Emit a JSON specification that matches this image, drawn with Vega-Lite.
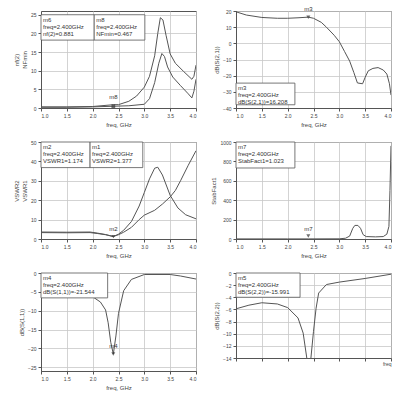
{
"$schema": "https://vega.github.io/schema/vega-lite/v6.json",
"background": "white",
"padding": {"left": 12, "top": 5, "right": 5, "bottom": 2},
"datasets": {
"p1": [
{"freq":1.0,"v":0.3,"s":"nf(2)"},{"freq":1.5,"v":0.3,"s":"nf(2)"},{"freq":2.0,"v":0.4,"s":"nf(2)"},{"freq":2.4,"v":0.88,"s":"nf(2)"},{"freq":2.5,"v":0.9,"s":"nf(2)"},{"freq":2.7,"v":1.8,"s":"nf(2)"},{"freq":2.85,"v":3.2,"s":"nf(2)"},{"freq":3.0,"v":5.6,"s":"nf(2)"},{"freq":3.1,"v":8.5,"s":"nf(2)"},{"freq":3.2,"v":14,"s":"nf(2)"},{"freq":3.26,"v":20,"s":"nf(2)"},{"freq":3.31,"v":24.2,"s":"nf(2)"},{"freq":3.36,"v":23.6,"s":"nf(2)"},{"freq":3.42,"v":19.5,"s":"nf(2)"},{"freq":3.5,"v":14.5,"s":"nf(2)"},{"freq":3.6,"v":12,"s":"nf(2)"},{"freq":3.76,"v":9.8,"s":"nf(2)"},{"freq":3.92,"v":7.7,"s":"nf(2)"},{"freq":3.96,"v":8.5,"s":"nf(2)"},{"freq":4.0,"v":11.5,"s":"nf(2)"},
{"freq":1.0,"v":0.2,"s":"NFmin"},{"freq":1.5,"v":0.2,"s":"NFmin"},{"freq":2.0,"v":0.3,"s":"NFmin"},{"freq":2.4,"v":0.47,"s":"NFmin"},{"freq":2.7,"v":0.6,"s":"NFmin"},{"freq":3.0,"v":1.0,"s":"NFmin"},{"freq":3.1,"v":2.5,"s":"NFmin"},{"freq":3.2,"v":6.8,"s":"NFmin"},{"freq":3.28,"v":12,"s":"NFmin"},{"freq":3.34,"v":14.6,"s":"NFmin"},{"freq":3.39,"v":13.8,"s":"NFmin"},{"freq":3.45,"v":11,"s":"NFmin"},{"freq":3.55,"v":8.3,"s":"NFmin"},{"freq":3.7,"v":6,"s":"NFmin"},{"freq":3.85,"v":3.8,"s":"NFmin"},{"freq":3.92,"v":2.7,"s":"NFmin"},{"freq":3.96,"v":4.5,"s":"NFmin"},{"freq":4.0,"v":7.7,"s":"NFmin"}
],
"p2": [
{"freq":1.0,"v":19.5},{"freq":1.2,"v":17.5},{"freq":1.5,"v":16},{"freq":1.8,"v":15.5},{"freq":2.0,"v":15.5},{"freq":2.2,"v":15.8},{"freq":2.4,"v":16.2},{"freq":2.5,"v":15.5},{"freq":2.65,"v":13},{"freq":2.75,"v":10},{"freq":2.9,"v":5},{"freq":3.0,"v":1},{"freq":3.1,"v":-5},{"freq":3.2,"v":-11},{"freq":3.28,"v":-18},{"freq":3.35,"v":-24.5},{"freq":3.45,"v":-25},{"freq":3.5,"v":-21},{"freq":3.56,"v":-17},{"freq":3.65,"v":-15.5},{"freq":3.75,"v":-15},{"freq":3.85,"v":-16.5},{"freq":3.92,"v":-19},{"freq":3.97,"v":-25},{"freq":4.0,"v":-32}
],
"p3": [
{"freq":1.0,"v":3.6,"s":"VSWR1"},{"freq":1.5,"v":3.5,"s":"VSWR1"},{"freq":1.95,"v":3.6,"s":"VSWR1"},{"freq":2.1,"v":3.0,"s":"VSWR1"},{"freq":2.25,"v":2.3,"s":"VSWR1"},{"freq":2.4,"v":1.17,"s":"VSWR1"},{"freq":2.5,"v":2.5,"s":"VSWR1"},{"freq":2.6,"v":4.5,"s":"VSWR1"},{"freq":2.75,"v":9,"s":"VSWR1"},{"freq":2.9,"v":17,"s":"VSWR1"},{"freq":3.0,"v":24,"s":"VSWR1"},{"freq":3.1,"v":31,"s":"VSWR1"},{"freq":3.2,"v":36.5,"s":"VSWR1"},{"freq":3.26,"v":37,"s":"VSWR1"},{"freq":3.35,"v":33,"s":"VSWR1"},{"freq":3.5,"v":22.5,"s":"VSWR1"},{"freq":3.65,"v":16,"s":"VSWR1"},{"freq":3.8,"v":12.5,"s":"VSWR1"},{"freq":4.0,"v":10.4,"s":"VSWR1"},
{"freq":1.0,"v":3.3,"s":"VSWR2"},{"freq":1.5,"v":3.2,"s":"VSWR2"},{"freq":1.95,"v":3.3,"s":"VSWR2"},{"freq":2.1,"v":2.8,"s":"VSWR2"},{"freq":2.25,"v":2.2,"s":"VSWR2"},{"freq":2.4,"v":1.38,"s":"VSWR2"},{"freq":2.5,"v":2.2,"s":"VSWR2"},{"freq":2.6,"v":3.5,"s":"VSWR2"},{"freq":2.75,"v":6,"s":"VSWR2"},{"freq":2.9,"v":10,"s":"VSWR2"},{"freq":3.0,"v":12.3,"s":"VSWR2"},{"freq":3.2,"v":14.8,"s":"VSWR2"},{"freq":3.35,"v":18,"s":"VSWR2"},{"freq":3.5,"v":21.7,"s":"VSWR2"},{"freq":3.6,"v":25,"s":"VSWR2"},{"freq":3.7,"v":30,"s":"VSWR2"},{"freq":3.85,"v":38,"s":"VSWR2"},{"freq":4.0,"v":45.5,"s":"VSWR2"}
],
"p4": [
{"freq":1.0,"v":1},{"freq":2.0,"v":1},{"freq":2.4,"v":1.02},{"freq":3.0,"v":2},{"freq":3.12,"v":8},{"freq":3.2,"v":30},{"freq":3.26,"v":110},{"freq":3.3,"v":140},{"freq":3.36,"v":140},{"freq":3.41,"v":110},{"freq":3.46,"v":45},{"freq":3.52,"v":25},{"freq":3.7,"v":22},{"freq":3.85,"v":25},{"freq":3.92,"v":50},{"freq":3.96,"v":130},{"freq":3.98,"v":500},{"freq":4.0,"v":960}
],
"p5": [
{"freq":1.0,"v":-5.6},{"freq":1.5,"v":-5.8},{"freq":2.0,"v":-6.3},{"freq":2.15,"v":-7.7},{"freq":2.25,"v":-9.8},{"freq":2.3,"v":-13.2},{"freq":2.35,"v":-18.4},{"freq":2.4,"v":-21.5},{"freq":2.45,"v":-16.7},{"freq":2.5,"v":-10.7},{"freq":2.6,"v":-4.7},{"freq":2.75,"v":-1.7},{"freq":3.0,"v":-0.4},{"freq":3.5,"v":-0.4},{"freq":3.7,"v":-0.8},{"freq":4.0,"v":-1.6}
],
"p6": [
{"freq":1.0,"v":-5.9},{"freq":1.25,"v":-5.3},{"freq":1.5,"v":-4.9},{"freq":1.8,"v":-5.1},{"freq":2.0,"v":-5.7},{"freq":2.2,"v":-7.4},{"freq":2.3,"v":-9.9},{"freq":2.37,"v":-14},{"freq":2.4,"v":-16},{"freq":2.45,"v":-14},{"freq":2.5,"v":-9.6},{"freq":2.55,"v":-5.8},{"freq":2.6,"v":-3.3},{"freq":2.75,"v":-1.9},{"freq":3.0,"v":-1.5},{"freq":3.5,"v":-0.9},{"freq":4.0,"v":-0.2}
]
},
"spacing": 11,
"vconcat": [
{"bounds": "flush", "spacing": 40, "hconcat": [
{"width":155,"height":97,
 "layer":[
  {"data":{"name":"p1"},"mark":{"type":"line","color":"#555","strokeWidth":1,"clip":true},
   "encoding":{"x":{"field":"freq","type":"quantitative","scale":{"domain":[1,4]},"axis":{"format":".1f","title":"freq, GHz"}},
   "y":{"field":"v","type":"quantitative","scale":{"domain":[0,25]},"axis":{"title":["nf(2)","NFmin"]}},"detail":{"field":"s"}}},
  {"data":{"values":[{"n":"m8","freq":2.4,"v":0.47}]},"mark":{"type":"point","shape":"square","filled":true,"fill":"#333","color":"#333","size":14},
   "encoding":{"x":{"field":"freq","type":"quantitative"},"y":{"field":"v","type":"quantitative"}}},
  {"data":{"values":[{"n":"m8","freq":2.4,"v":0.47}]},"mark":{"type":"text","fontSize":6,"dy":-9,"fill":"#333"},
   "encoding":{"x":{"field":"freq","type":"quantitative"},"y":{"field":"v","type":"quantitative"},"text":{"field":"n"}}},
  {"data":{"values":[{}]},"mark":{"type":"rect","fill":"white","stroke":"#555","strokeWidth":0.8},
   "encoding":{"x":{"datum":1.0},"x2":{"datum":2.03},"y":{"datum":25},"y2":{"datum":18.2}}},
  {"data":{"values":[{}]},"mark":{"type":"rect","fill":"white","stroke":"#555","strokeWidth":0.8},
   "encoding":{"x":{"datum":2.03},"x2":{"datum":3.01},"y":{"datum":25},"y2":{"datum":18.2}}},
  {"data":{"values":[{"t":"m6\nfreq=2.400GHz\nnf(2)=0.881"}]},"mark":{"type":"text","lineBreak":"\n","fontSize":6,"align":"left","baseline":"top","dx":2,"dy":2,"fill":"#333","lineHeight":7},
   "encoding":{"x":{"datum":1.0},"y":{"datum":25},"text":{"field":"t"}}},
  {"data":{"values":[{"t":"m8\nfreq=2.400GHz\nNFmin=0.467"}]},"mark":{"type":"text","lineBreak":"\n","fontSize":6,"align":"left","baseline":"top","dx":2,"dy":2,"fill":"#333","lineHeight":7},
   "encoding":{"x":{"datum":2.03},"y":{"datum":25},"text":{"field":"t"}}}
 ]},
{"width":155,"height":97,
 "layer":[
  {"data":{"name":"p2"},"mark":{"type":"line","color":"#555","strokeWidth":1,"clip":true},
   "encoding":{"x":{"field":"freq","type":"quantitative","scale":{"domain":[1,4]},"axis":{"format":".1f","title":"freq, GHz"}},
   "y":{"field":"v","type":"quantitative","scale":{"domain":[-40,20]},"axis":{"title":"dB(S(2,1))"}}}},
  {"data":{"values":[{"n":"m3","freq":2.4,"v":16.2}]},"mark":{"type":"point","shape":"triangle-down","filled":true,"fill":"#333","size":16},
   "encoding":{"x":{"field":"freq","type":"quantitative"},"y":{"field":"v","type":"quantitative"}}},
  {"data":{"values":[{"n":"m3","freq":2.4,"v":16.2}]},"mark":{"type":"text","fontSize":6,"dy":-8,"fill":"#333"},
   "encoding":{"x":{"field":"freq","type":"quantitative"},"y":{"field":"v","type":"quantitative"},"text":{"field":"n"}}},
  {"data":{"values":[{}]},"mark":{"type":"rect","fill":"white","stroke":"#555","strokeWidth":0.8},
   "encoding":{"x":{"datum":1.0},"x2":{"datum":2.14},"y":{"datum":-24.6},"y2":{"datum":-38}}},
  {"data":{"values":[{"t":"m3\nfreq=2.400GHz\ndB(S(2,1))=16.208"}]},"mark":{"type":"text","lineBreak":"\n","fontSize":6,"align":"left","baseline":"top","dx":2,"dy":2,"fill":"#333","lineHeight":7},
   "encoding":{"x":{"datum":1.0},"y":{"datum":-24.6},"text":{"field":"t"}}}
 ]}
]},
{"bounds": "flush", "spacing": 40, "hconcat": [
{"width":155,"height":97,
 "layer":[
  {"data":{"name":"p3"},"mark":{"type":"line","color":"#555","strokeWidth":1,"clip":true},
   "encoding":{"x":{"field":"freq","type":"quantitative","scale":{"domain":[1,4]},"axis":{"format":".1f","title":"freq, GHz"}},
   "y":{"field":"v","type":"quantitative","scale":{"domain":[0,50]},"axis":{"title":["VSWR2","VSWR1"]}},"detail":{"field":"s"}}},
  {"data":{"values":[{"n":"m2","freq":2.4,"v":1.17}]},"mark":{"type":"point","shape":"triangle-down","filled":true,"fill":"#333","size":14},
   "encoding":{"x":{"field":"freq","type":"quantitative"},"y":{"field":"v","type":"quantitative"}}},
  {"data":{"values":[{"n":"m2","freq":2.4,"v":1.17}]},"mark":{"type":"text","fontSize":6,"dy":-8,"fill":"#333"},
   "encoding":{"x":{"field":"freq","type":"quantitative"},"y":{"field":"v","type":"quantitative"},"text":{"field":"n"}}},
  {"data":{"values":[{}]},"mark":{"type":"rect","fill":"white","stroke":"#555","strokeWidth":0.8},
   "encoding":{"x":{"datum":1.0},"x2":{"datum":1.95},"y":{"datum":50},"y2":{"datum":36.8}}},
  {"data":{"values":[{}]},"mark":{"type":"rect","fill":"white","stroke":"#555","strokeWidth":0.8},
   "encoding":{"x":{"datum":1.95},"x2":{"datum":2.97},"y":{"datum":50},"y2":{"datum":36.8}}},
  {"data":{"values":[{"t":"m2\nfreq=2.400GHz\nVSWR1=1.174"}]},"mark":{"type":"text","lineBreak":"\n","fontSize":6,"align":"left","baseline":"top","dx":2,"dy":2,"fill":"#333","lineHeight":7},
   "encoding":{"x":{"datum":1.0},"y":{"datum":50},"text":{"field":"t"}}},
  {"data":{"values":[{"t":"m1\nfreq=2.400GHz\nVSWR2=1.377"}]},"mark":{"type":"text","lineBreak":"\n","fontSize":6,"align":"left","baseline":"top","dx":2,"dy":2,"fill":"#333","lineHeight":7},
   "encoding":{"x":{"datum":1.95},"y":{"datum":50},"text":{"field":"t"}}}
 ]},
{"width":155,"height":97,
 "layer":[
  {"data":{"name":"p4"},"mark":{"type":"line","color":"#555","strokeWidth":1,"clip":true},
   "encoding":{"x":{"field":"freq","type":"quantitative","scale":{"domain":[1,4]},"axis":{"format":".1f","title":"freq, GHz"}},
   "y":{"field":"v","type":"quantitative","scale":{"domain":[0,1000]},"axis":{"title":"StabFact1","format":"d"}}}},
  {"data":{"values":[{"n":"m7","freq":2.4,"v":1.02}]},"mark":{"type":"point","shape":"triangle-down","filled":true,"fill":"#333","size":16,"yOffset":-3},
   "encoding":{"x":{"field":"freq","type":"quantitative"},"y":{"field":"v","type":"quantitative"}}},
  {"data":{"values":[{"n":"m7","freq":2.4,"v":1.02}]},"mark":{"type":"text","fontSize":6,"dy":-10,"fill":"#333"},
   "encoding":{"x":{"field":"freq","type":"quantitative"},"y":{"field":"v","type":"quantitative"},"text":{"field":"n"}}},
  {"data":{"values":[{}]},"mark":{"type":"rect","fill":"white","stroke":"#555","strokeWidth":0.8},
   "encoding":{"x":{"datum":1.0},"x2":{"datum":2.14},"y":{"datum":1000},"y2":{"datum":732}}},
  {"data":{"values":[{"t":"m7\nfreq=2.400GHz\nStabFact1=1.023"}]},"mark":{"type":"text","lineBreak":"\n","fontSize":6,"align":"left","baseline":"top","dx":2,"dy":2,"fill":"#333","lineHeight":7},
   "encoding":{"x":{"datum":1.0},"y":{"datum":1000},"text":{"field":"t"}}}
 ]}
]},
{"bounds": "flush", "spacing": 40, "hconcat": [
{"width":155,"height":98,
 "layer":[
  {"data":{"name":"p5"},"mark":{"type":"line","color":"#555","strokeWidth":1,"clip":true},
   "encoding":{"x":{"field":"freq","type":"quantitative","scale":{"domain":[1,4]},"axis":{"format":".1f","title":"freq, GHz"}},
   "y":{"field":"v","type":"quantitative","scale":{"domain":[-25,0]},"axis":{"title":"dB(S(1,1))"}}}},
  {"data":{"values":[{"n":"m4","freq":2.4,"v":-21.5}]},"mark":{"type":"point","shape":"triangle-down","filled":true,"fill":"#333","size":16},
   "encoding":{"x":{"field":"freq","type":"quantitative"},"y":{"field":"v","type":"quantitative"}}},
  {"data":{"values":[{"n":"m4","freq":2.4,"v":-21.5}]},"mark":{"type":"text","fontSize":6,"dy":-8,"fill":"#333"},
   "encoding":{"x":{"field":"freq","type":"quantitative"},"y":{"field":"v","type":"quantitative"},"text":{"field":"n"}}},
  {"data":{"values":[{}]},"mark":{"type":"rect","fill":"white","stroke":"#555","strokeWidth":0.8},
   "encoding":{"x":{"datum":1.0},"x2":{"datum":2.29},"y":{"datum":0},"y2":{"datum":-6.6}}},
  {"data":{"values":[{"t":"m4\nfreq=2.400GHz\ndB(S(1,1))=-21.544"}]},"mark":{"type":"text","lineBreak":"\n","fontSize":6,"align":"left","baseline":"top","dx":2,"dy":2,"fill":"#333","lineHeight":7},
   "encoding":{"x":{"datum":1.0},"y":{"datum":0},"text":{"field":"t"}}}
 ]},
{"width":155,"height":85,
 "layer":[
  {"data":{"name":"p6"},"mark":{"type":"line","color":"#555","strokeWidth":1,"clip":true},
   "encoding":{"x":{"field":"freq","type":"quantitative","scale":{"domain":[1,4]},"axis":{"labels":false,"title":"freq","titleAnchor":"end","titleFontSize":5,"titlePadding":0}},
   "y":{"field":"v","type":"quantitative","scale":{"domain":[-14,0]},"axis":{"title":"dB(S(2,2))","tickCount":8}}}},
  {"data":{"values":[{}]},"mark":{"type":"rect","fill":"white","stroke":"#555","strokeWidth":0.8},
   "encoding":{"x":{"datum":1.0},"x2":{"datum":2.24},"y":{"datum":0},"y2":{"datum":-4}}},
  {"data":{"values":[{"t":"m5\nfreq=2.400GHz\ndB(S(2,2))=-15.991"}]},"mark":{"type":"text","lineBreak":"\n","fontSize":6,"align":"left","baseline":"top","dx":2,"dy":2,"fill":"#333","lineHeight":7},
   "encoding":{"x":{"datum":1.0},"y":{"datum":0},"text":{"field":"t"}}}
 ]}
]}
],
"config": {
 "font": "Liberation Sans",
 "view": {"stroke": "#555", "strokeWidth": 1},
 "axis": {"labelFontSize": 5, "titleFontSize": 6, "titleFontWeight": "normal", "gridColor": "#c8c8c8", "gridWidth": 0.8, "domainColor": "#555", "tickColor": "#555", "labelColor": "#444", "titleColor": "#444", "tickSize": 3, "labelPadding": 2, "titlePadding": 3, "labelOverlap": false},
 "axisX": {"tickCount": 7},
 "axisY": {"tickCount": 6}
}
}
